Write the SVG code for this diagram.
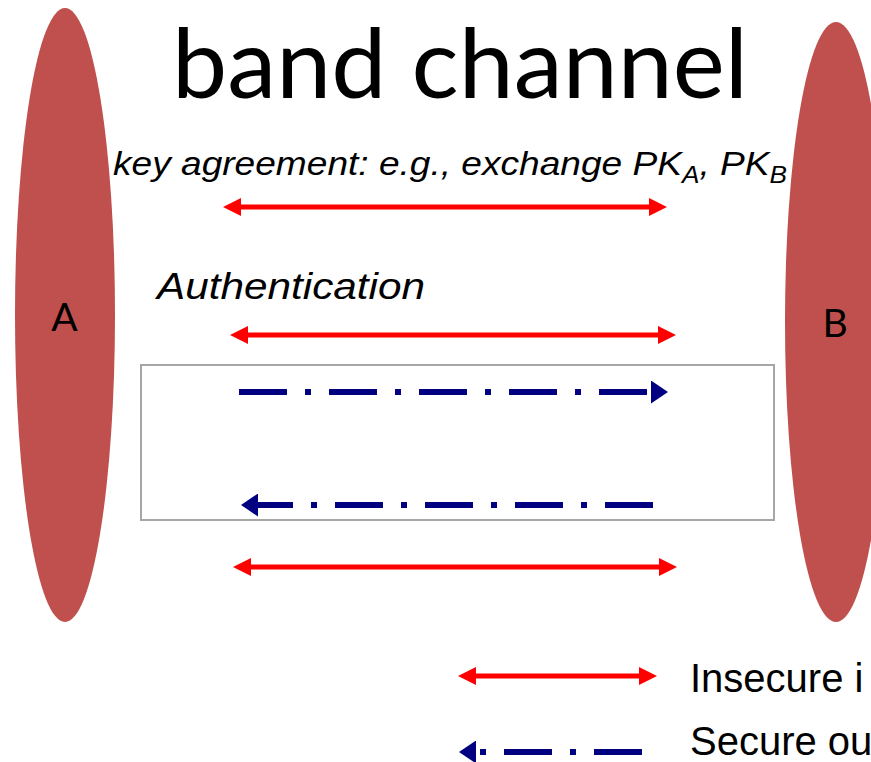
<svg xmlns="http://www.w3.org/2000/svg" width="871" height="762" viewBox="0 0 871 762">
  <style>
    .party { fill: #C0504D; }
    .party-label { font-family: Lato, "Open Sans", sans-serif; font-size: 39px; fill: #000; text-anchor: middle; }
    .title { font-family: Lato, "Open Sans", sans-serif; font-size: 96px; fill: #000; }
    .note { font-family: "Liberation Sans", Arial, sans-serif; font-style: italic; fill: #000; }
    .legend-text { font-family: "Liberation Sans", Arial, sans-serif; font-size: 40px; fill: #000; }
    .insecure { stroke: #FF0000; stroke-width: 5; fill: none; marker-start: url(#redHead); marker-end: url(#redHead); }
    .secure { stroke: #000080; stroke-width: 6; fill: none; stroke-dasharray: 48 18 6 18; marker-end: url(#blueHead); }
  </style>
  <defs>
    <marker id="redHead" viewBox="0 0 18 18" refX="0" refY="9" markerWidth="18" markerHeight="18" markerUnits="userSpaceOnUse" orient="auto-start-reverse">
      <path d="M0,0 L18,9 L0,18 Z" fill="#FF0000"/>
    </marker>
    <marker id="blueHead" viewBox="0 0 17 23" refX="1" refY="11.5" markerWidth="17" markerHeight="23" markerUnits="userSpaceOnUse" orient="auto">
      <path d="M0,0 L17,11.5 L0,23 Z" fill="#000080"/>
    </marker>
  </defs>

  <rect width="871" height="762" fill="#FFFFFF"/>

  <!-- parties -->
  <g id="partyA">
    <ellipse class="party" cx="65" cy="315" rx="50" ry="307"/>
    <text class="party-label" x="64.5" y="331">A</text>
  </g>
  <g id="partyB">
    <ellipse class="party" cx="836" cy="322" rx="51" ry="300"/>
    <text class="party-label" x="835" y="337">B</text>
  </g>

  <!-- heading -->
  <text class="title" x="172" y="98" textLength="576" lengthAdjust="spacingAndGlyphs">band channel</text>

  <!-- annotations -->
  <g id="keyAgreementLabel">
    <text class="note" x="113" y="175" font-size="34" textLength="674" lengthAdjust="spacingAndGlyphs">key agreement: e.g., exchange PK<tspan font-size="24" dy="8">A</tspan><tspan dy="-8">, PK</tspan><tspan font-size="24" dy="8">B</tspan></text>
  </g>
  <g id="authenticationLabel">
    <text class="note" x="157" y="299" font-size="36" textLength="268" lengthAdjust="spacingAndGlyphs">Authentication</text>
  </g>

  <!-- out-of-band frame -->
  <g id="secureFrame">
    <rect x="141" y="365" width="633" height="155" fill="none" stroke="#A6A6A6" stroke-width="2"/>
  </g>

  <!-- connectors -->
  <g id="connectors">
    <line class="insecure" x1="241" y1="207" x2="649" y2="207"/>
    <line class="insecure" x1="248" y1="335" x2="658" y2="335"/>
    <path class="secure" d="M239,392 H652"/>
    <path class="secure" d="M653,505 H257"/>
    <line class="insecure" x1="251" y1="567" x2="659" y2="567"/>
  </g>

  <!-- legend -->
  <g id="legend">
    <line class="insecure" x1="476" y1="676" x2="639" y2="676"/>
    <text class="legend-text" x="690" y="692">Insecure i</text>
    <path class="secure" d="M642,752 H475"/>
    <text class="legend-text" x="690" y="755">Secure ou</text>
  </g>
</svg>
